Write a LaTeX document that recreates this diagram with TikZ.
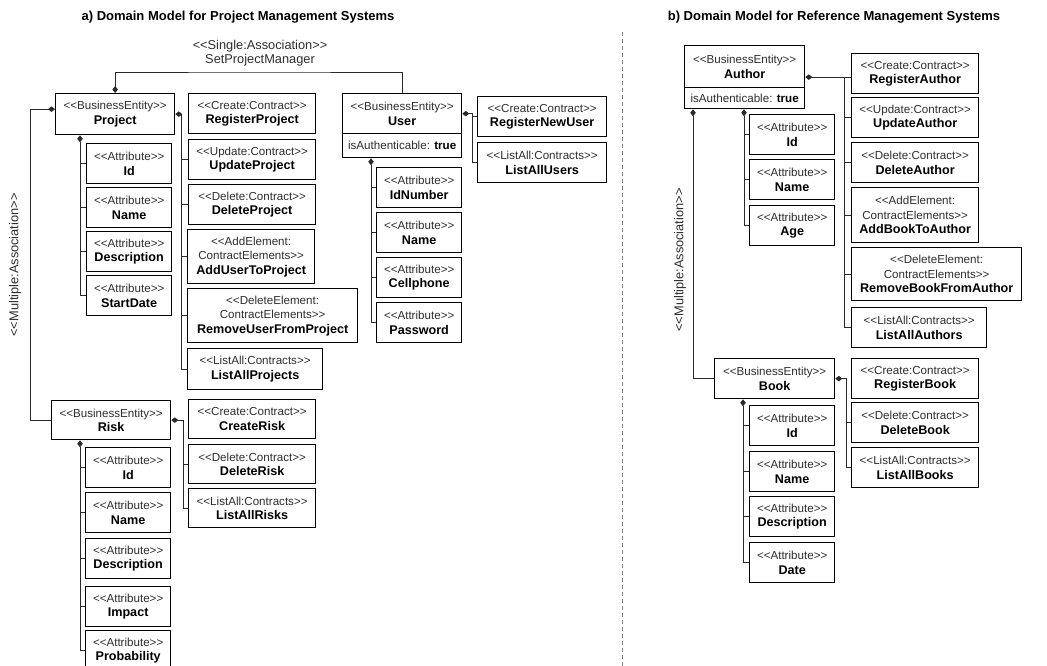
\documentclass[tikz,border=0pt]{standalone}
\usepackage{fontspec}
\usetikzlibrary{arrows.meta,calc}
\newfontfamily\uifont{Liberation Sans}
\definecolor{stgray}{HTML}{2E2E2E}
\definecolor{linegray}{HTML}{2A2A2A}
\newcommand\stlabel[1]{{\color{stgray}#1}}
\newcommand\nmlabel[1]{{\fontsize{12.6}{14.5}\selectfont\bfseries #1}}
% box: name, x, y (downwards), width, height, contents
\newcommand\bx[6]{\node[box, minimum width=#4pt, minimum height=#5pt] (#1) at (#2,#3) {#6};}
\newcommand\attr[4]{\bx{#1}{#2}{#3}{85}{40}{\stlabel{<<Attribute>>}\\\nmlabel{#4}}}
\tikzset{
  box/.style={draw=black, line width=1.3pt, fill=white, inner sep=0pt, anchor=north west,
    align=center, font=\uifont\fontsize{11.6}{14.5}\selectfont},
  link/.style={draw=linegray, line width=0.9pt},
  owner/.style={link, {Diamond[length=7pt,width=5.5pt]}-},
  lbl/.style={inner sep=0pt, align=center, text=stgray, font=\uifont\fontsize{12.8}{13.5}\selectfont},
  title/.style={inner sep=0pt, font=\uifont\fontsize{13}{15}\selectfont\bfseries},
}
\begin{document}
\begin{tikzpicture}[x=1pt,y=-1pt]
\useasboundingbox (0,0) rectangle (1047,666);

% ---------- titles and separator ----------
\node[title] (ta) at (238,17) {a) Domain Model for Project Management Systems};
\node[title] (tb) at (834,17) {b) Domain Model for Reference Management Systems};
\coordinate (septop) at (622,32);
\coordinate (sepbot) at (622,666);
\draw[gray, line width=0.7pt, dash pattern=on 4pt off 3pt] (septop) -- (sepbot);

% ---------- a) project management ----------
\bx{project}{55}{93}{119}{41}{\stlabel{<<BusinessEntity>>}\\\nmlabel{Project}}
\bx{regproj}{188}{93}{127}{40}{\stlabel{<<Create:Contract>>}\\\nmlabel{RegisterProject}}
\bx{updproj}{188}{139}{127}{40}{\stlabel{<<Update:Contract>>}\\\nmlabel{UpdateProject}}
\bx{delproj}{188}{184}{127}{40}{\stlabel{<<Delete:Contract>>}\\\nmlabel{DeleteProject}}
\bx{addusr}{187}{229}{127}{54}{\stlabel{<<AddElement:}\\\stlabel{ContractElements>>}\\\nmlabel{AddUserToProject}}
\bx{remusr}{187}{288}{170}{54}{\stlabel{<<DeleteElement:}\\\stlabel{ContractElements>>}\\\nmlabel{RemoveUserFromProject}}
\bx{listproj}{187}{348}{135}{41}{\stlabel{<<ListAll:Contracts>>}\\\nmlabel{ListAllProjects}}
\attr{pid}{86}{143}{Id}
\attr{pname}{86}{187}{Name}
\attr{pdesc}{86}{231}{Description}
\attr{pstart}{86}{275}{StartDate}

\bx{user}{342}{93}{119}{40}{\stlabel{<<BusinessEntity>>}\\\nmlabel{User}}
\bx{userflag}{342}{133}{119}{24}{\stlabel{isAuthenticable:} \textbf{true}}
\bx{regusr}{477}{96}{129}{40}{\stlabel{<<Create:Contract>>}\\\nmlabel{RegisterNewUser}}
\bx{listusr}{477}{142}{129}{40}{\stlabel{<<ListAll:Contracts>>}\\\nmlabel{ListAllUsers}}
\attr{uid}{376}{167}{IdNumber}
\attr{uname}{376}{212}{Name}
\attr{ucell}{376}{257}{Cellphone}
\attr{upass}{376}{302}{Password}

\bx{risk}{51}{400}{119}{39}{\stlabel{<<BusinessEntity>>}\\\nmlabel{Risk}}
\bx{crrisk}{188}{399}{127}{39}{\stlabel{<<Create:Contract>>}\\\nmlabel{CreateRisk}}
\bx{delrisk}{188}{444}{127}{39}{\stlabel{<<Delete:Contract>>}\\\nmlabel{DeleteRisk}}
\bx{listrisk}{188}{488}{127}{39}{\stlabel{<<ListAll:Contracts>>}\\\nmlabel{ListAllRisks}}
\attr{rid}{85}{447}{Id}
\attr{rname}{85}{492}{Name}
\attr{rdesc}{85}{538}{Description}
\attr{rimpact}{85}{586}{Impact}
\attr{rprob}{85}{630}{Probability}

% bus positions
\coordinate (pcb) at (181,0);
\coordinate (pab) at (80,0);
\coordinate (ucb) at (472,0);
\coordinate (uab) at (371,0);
\coordinate (rcb) at (183,0);
\coordinate (rab) at (80,0);
\coordinate (lmab) at (30,0);
\coordinate (sajoin) at (260,72);

% single association Project -> User
\node[lbl] (salbl) at (260,53) {<<Single:Association>>\\SetProjectManager};
\draw[owner] (project.north) |- (sajoin) -| (user.north);

% multiple association Project -> Risk
\node[lbl, rotate=90] (malblA) at (15,265) {<<Multiple:Association>>};
\draw[owner] ([yshift=5pt]project.west) -| (lmab |- risk.west) -- (risk.west);

% project contracts
\draw[owner] (project.east) -- (pcb |- project.east) |- (listproj.west);
\foreach \n in {updproj,delproj,addusr,remusr} \draw[link] (pcb |- \n.west) -- (\n.west);
% project attributes
\draw[owner] (pab |- project.south) |- (pstart.west);
\foreach \n in {pid,pname,pdesc} \draw[link] (pab |- \n.west) -- (\n.west);

% user contracts
\draw[owner] (user.east) -- (ucb |- user.east) |- (listusr.west);
\draw[link] (ucb |- regusr.west) -- (regusr.west);
% user attributes
\draw[owner] (uab |- userflag.south) |- (upass.west);
\foreach \n in {uid,uname,ucell} \draw[link] (uab |- \n.west) -- (\n.west);

% risk contracts
\draw[owner] (risk.east) -- (rcb |- risk.east) |- (listrisk.west);
\draw[link] (rcb |- delrisk.west) -- (delrisk.west);
% risk attributes
\draw[owner] (rab |- risk.south) |- (rprob.west);
\foreach \n in {rid,rname,rdesc,rimpact} \draw[link] (rab |- \n.west) -- (\n.west);

% ---------- b) reference management ----------
\bx{author}{684}{45}{120}{42}{\stlabel{<<BusinessEntity>>}\\\nmlabel{Author}}
\bx{authorflag}{684}{87}{120}{21}{\stlabel{isAuthenticable:} \textbf{true}}
\bx{areg}{851}{53}{127}{40}{\stlabel{<<Create:Contract>>}\\\nmlabel{RegisterAuthor}}
\bx{aupd}{851}{97}{127}{40}{\stlabel{<<Update:Contract>>}\\\nmlabel{UpdateAuthor}}
\bx{adel}{851}{142}{127}{40}{\stlabel{<<Delete:Contract>>}\\\nmlabel{DeleteAuthor}}
\bx{aadd}{851}{187}{127}{55}{\stlabel{<<AddElement:}\\\stlabel{ContractElements>>}\\\nmlabel{AddBookToAuthor}}
\bx{arem}{851}{247}{170}{53}{\stlabel{<<DeleteElement:}\\\stlabel{ContractElements>>}\\\nmlabel{RemoveBookFromAuthor}}
\bx{alist}{851}{307}{135}{40}{\stlabel{<<ListAll:Contracts>>}\\\nmlabel{ListAllAuthors}}
\attr{aid}{749}{114}{Id}
\attr{aname}{749}{159}{Name}
\attr{aage}{749}{205}{Age}

\bx{book}{714}{358}{120}{40}{\stlabel{<<BusinessEntity>>}\\\nmlabel{Book}}
\bx{breg}{851}{358}{127}{40}{\stlabel{<<Create:Contract>>}\\\nmlabel{RegisterBook}}
\bx{bdel}{851}{402}{127}{40}{\stlabel{<<Delete:Contract>>}\\\nmlabel{DeleteBook}}
\bx{blist}{851}{447}{127}{40}{\stlabel{<<ListAll:Contracts>>}\\\nmlabel{ListAllBooks}}
\attr{bid}{749}{405}{Id}
\attr{bname}{749}{451}{Name}
\attr{bdesc}{749}{496}{Description}
\attr{bdate}{749}{542}{Date}

\coordinate (acb) at (844,0);
\coordinate (aab) at (744,0);
\coordinate (rmab) at (693,0);
\coordinate (bcb) at (846,0);
\coordinate (bab) at (743,0);
\coordinate (amid) at ($(author.north east)!0.5!(authorflag.south east)$);

% multiple association Author -> Book
\node[lbl, rotate=90] (malblB) at (680,260) {<<Multiple:Association>>};
\draw[owner] (rmab |- authorflag.south) |- (book.west);

% author contracts
\draw[owner] (amid) -- (acb |- amid) |- (alist.west);
\draw[link] (acb |- amid) -- (amid -| areg.west);
\foreach \n in {aupd,adel,aadd,arem} \draw[link] (acb |- \n.west) -- (\n.west);
% author attributes
\draw[owner] (aab |- authorflag.south) |- (aage.west);
\foreach \n in {aid,aname} \draw[link] (aab |- \n.west) -- (\n.west);

% book contracts
\draw[owner] (book.east) -- (bcb |- book.east) |- (blist.west);
\draw[link] (bcb |- bdel.west) -- (bdel.west);
% book attributes
\draw[owner] (bab |- book.south) |- (bdate.west);
\foreach \n in {bid,bname,bdesc} \draw[link] (bab |- \n.west) -- (\n.west);
\end{tikzpicture}
\end{document}
